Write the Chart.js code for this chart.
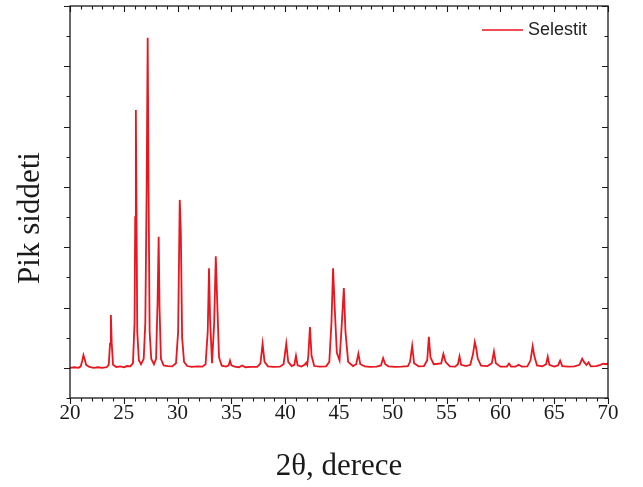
<!DOCTYPE html>
<html>
<head>
<meta charset="utf-8">
<script src="https://cdn.jsdelivr.net/npm/chart.js@4"></script>
<style>
  html, body { margin: 0; padding: 0; background: #fff; }
  canvas { display: block; }
</style>
</head>
<body>
<canvas id="xrd" width="643" height="487"></canvas>
<script>
// ---------- Data ----------
const seriesLabel = "Selestit";
const xTitle = "2θ, derece";
const yTitle = "Pik siddeti";

// 2θ positions (degrees)
const twoTheta = [
  20.0, 20.4, 20.8, 21.0, 21.15, 21.25, 21.35, 21.5, 21.8, 22.2, 22.6, 23.0, 23.4,
  23.6, 23.72, 23.8, 23.88, 24.0, 24.3, 24.7, 25.0, 25.3, 25.6, 25.85,
  26.0, 26.06, 26.12, 26.18, 26.25, 26.4, 26.6, 26.85,
  27.0, 27.12, 27.22, 27.3, 27.4, 27.55, 27.8,
  28.0, 28.14, 28.24, 28.32, 28.45, 28.7, 29.1, 29.5, 29.85,
  30.05, 30.2, 30.3, 30.42, 30.6, 30.9, 31.3, 31.8, 32.3, 32.6,
  32.8, 32.92, 33.02, 33.2, 33.4, 33.55, 33.68, 33.85, 34.1, 34.5,
  34.75, 34.87, 35.0, 35.3, 35.7, 36.0, 36.3, 36.8, 37.4,
  37.7, 37.9, 38.08, 38.4, 38.9, 39.5, 39.85, 40.1, 40.28, 40.6,
  40.85, 41.0, 41.15, 41.5, 41.8, 41.95, 42.05, 42.15, 42.3, 42.45, 42.7,
  43.2, 43.8, 44.1, 44.3, 44.45, 44.6, 44.8, 45.05, 45.25, 45.45, 45.6, 45.85,
  46.3, 46.6, 46.8, 46.98, 47.4, 47.9, 48.5, 48.9, 49.1, 49.3, 49.6,
  50.2, 50.8, 51.4, 51.6, 51.8, 51.98, 52.4, 52.9, 53.2, 53.35, 53.5, 53.8,
  54.5, 54.7, 54.9, 55.3, 55.8, 56.05, 56.2, 56.35, 56.8,
  57.2, 57.45, 57.62, 57.75, 57.9, 58.2, 58.8, 59.2, 59.4, 59.58,
  60.0, 60.6, 60.8, 61.0, 61.4, 61.7, 62.0, 62.5, 62.8, 63.0, 63.15, 63.4,
  63.9, 64.25, 64.4, 64.55, 65.0, 65.35, 65.55, 65.75, 66.3, 66.9,
  67.35, 67.6, 67.8, 68.0, 68.2, 68.4, 68.9, 69.3, 69.55, 69.8, 70.0
];

// intensity (arbitrary units, 0 = background)
const intensity = [
  0.00, 0.02, 0.00, 0.05, 0.25, 0.42, 0.30, 0.10, 0.03, 0.00, 0.02, 0.00, 0.02,
  0.10, 0.80, 1.75, 0.80, 0.10, 0.03, 0.05, 0.02, 0.06, 0.05, 0.15,
  1.50, 5.00, 8.55, 5.20, 1.20, 0.25, 0.12, 0.30,
  1.50, 5.80, 10.95, 6.00, 1.20, 0.30, 0.12,
  0.30, 2.20, 4.35, 2.00, 0.30, 0.08, 0.06, 0.05, 0.15,
  1.20, 5.57, 4.50, 1.00, 0.20, 0.06, 0.03, 0.05, 0.04, 0.12,
  1.20, 3.30, 1.60, 0.15, 1.50, 3.70, 2.20, 0.35, 0.07, 0.04,
  0.08, 0.24, 0.08, 0.04, 0.02, 0.08, 0.02, 0.03, 0.03,
  0.15, 0.80, 0.20, 0.05, 0.03, 0.04, 0.12, 0.80, 0.20, 0.06,
  0.10, 0.40, 0.08, 0.04, 0.10, 0.17, 0.10, 0.40, 1.35, 0.40, 0.06,
  0.04, 0.05, 0.20, 1.50, 3.30, 2.00, 0.50, 0.25, 1.40, 2.65, 1.20, 0.20,
  0.06, 0.12, 0.47, 0.12, 0.05, 0.03, 0.04, 0.08, 0.32, 0.12, 0.05,
  0.03, 0.04, 0.06, 0.20, 0.73, 0.15, 0.05, 0.06, 0.25, 1.03, 0.35, 0.12,
  0.15, 0.46, 0.20, 0.05, 0.04, 0.12, 0.38, 0.10, 0.06,
  0.10, 0.45, 0.86, 0.65, 0.30, 0.07, 0.06, 0.15, 0.54, 0.15,
  0.04, 0.04, 0.14, 0.04, 0.04, 0.10, 0.04, 0.05, 0.25, 0.72, 0.40, 0.08,
  0.05, 0.12, 0.37, 0.10, 0.04, 0.08, 0.24, 0.06, 0.04, 0.05,
  0.10, 0.30, 0.18, 0.10, 0.18, 0.05, 0.06, 0.10, 0.14, 0.12, 0.14
];

// axis ranges and tick spacing
const xRange = [20, 70];
const xMajorStep = 5;
const yRange = [-1, 12];
const yMajorStep = 2;

const LINE_RED = "#e8161e";
const INK = "#1a1a1a";
const SERIF = "'Liberation Serif', 'Times New Roman', serif";
const SANS = "'Liberation Sans', Arial, sans-serif";

// ---------- Frame, mirrored ticks, titles, legend ----------
const framePlugin = {
  id: "frame",
  afterDraw(chart) {
    const { ctx, chartArea: a, scales } = chart;
    const xs = scales.x, ys = scales.y;
    ctx.save();
    ctx.strokeStyle = INK;
    ctx.lineWidth = 1.3;
    ctx.strokeRect(a.left, a.top, a.right - a.left, a.bottom - a.top);

    ctx.lineWidth = 1.1;
    ctx.beginPath();
    for (let v = xRange[0]; v <= xRange[1]; v++) {
      const px = Math.round(xs.getPixelForValue(v)) + 0.5;
      const len = v % xMajorStep === 0 ? 6 : 3.5;
      ctx.moveTo(px, a.bottom); ctx.lineTo(px, a.bottom + len);
      ctx.moveTo(px, a.top); ctx.lineTo(px, a.top + len);
    }
    for (let v = yRange[0]; v <= yRange[1]; v++) {
      const py = Math.round(ys.getPixelForValue(v)) + 0.5;
      const len = v % yMajorStep === 0 ? 6 : 3.5;
      ctx.moveTo(a.left, py); ctx.lineTo(a.left - len, py);
      ctx.moveTo(a.right, py); ctx.lineTo(a.right - len, py);
    }
    ctx.stroke();

    // axis titles
    ctx.fillStyle = INK;
    ctx.font = `31px ${SERIF}`;
    ctx.textAlign = "center";
    ctx.textBaseline = "alphabetic";
    ctx.fillText(xTitle, (a.left + a.right) / 2, 475);
    ctx.save();
    ctx.translate(39, 218);
    ctx.rotate(-Math.PI / 2);
    ctx.fillText(yTitle, 0, 0);
    ctx.restore();

    // legend
    const ds = chart.data.datasets[0];
    ctx.strokeStyle = ds.borderColor;
    ctx.lineWidth = 1.5;
    ctx.beginPath();
    ctx.moveTo(482, 30); ctx.lineTo(523, 30);
    ctx.stroke();
    ctx.fillStyle = "#222";
    ctx.font = `18px ${SANS}`;
    ctx.textAlign = "left";
    ctx.textBaseline = "middle";
    ctx.fillText(ds.label, 528, 30);
    ctx.restore();
  }
};

// ---------- Chart ----------
const points = twoTheta.map((t, i) => ({ x: t, y: intensity[i] }));

new Chart(document.getElementById("xrd"), {
  type: "line",
  data: {
    datasets: [
      {
        label: seriesLabel,
        data: points,
        borderColor: LINE_RED,
        borderWidth: 1.8,
        pointRadius: 0,
        tension: 0,
        fill: false
      }
    ]
  },
  options: {
    responsive: false,
    animation: false,
    devicePixelRatio: 1,
    layout: { padding: { top: 6, right: 35, left: 0, bottom: 0 } },
    plugins: { legend: { display: false }, tooltip: { enabled: false } },
    scales: {
      x: {
        type: "linear",
        min: xRange[0],
        max: xRange[1],
        grid: { display: false, drawTicks: false },
        border: { display: false },
        ticks: {
          stepSize: xMajorStep,
          maxRotation: 0,
          padding: 3,
          color: INK,
          font: { family: SERIF, size: 21 }
        },
        afterFit(s) { s.height = 89; }
      },
      y: {
        min: yRange[0],
        max: yRange[1],
        grid: { display: false, drawTicks: false },
        border: { display: false },
        ticks: { display: false, stepSize: 1 },
        afterFit(s) { s.width = 70; }
      }
    }
  },
  plugins: [framePlugin]
});
</script>
</body>
</html>
